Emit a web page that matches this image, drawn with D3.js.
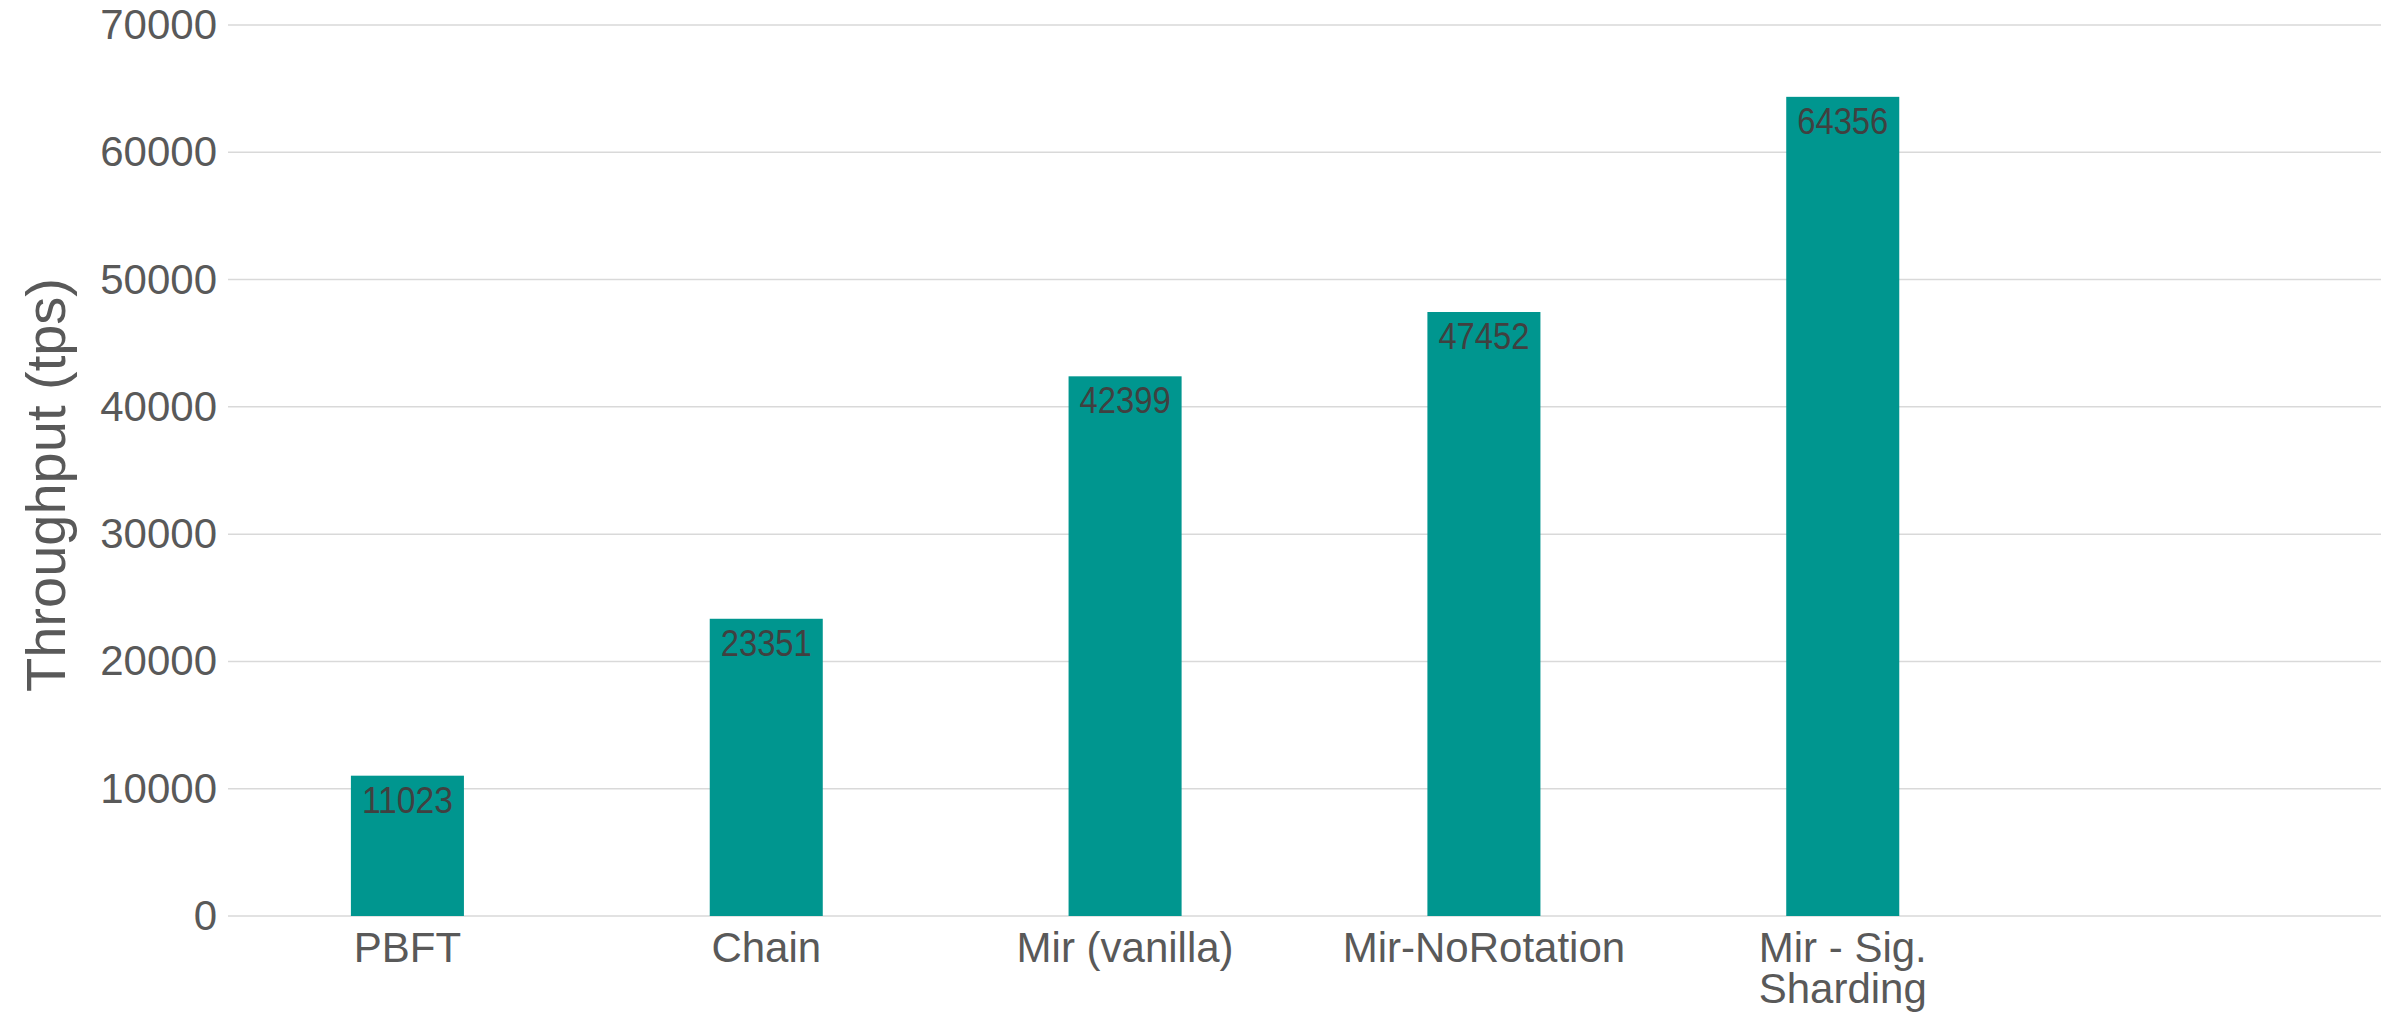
<!DOCTYPE html>
<html>
<head>
<meta charset="utf-8">
<script src="https://cdn.jsdelivr.net/npm/d3@7"></script>
<style>
  html, body { margin: 0; padding: 0; background: #fff; }
  svg { display: block; font-family: "Liberation Sans", Arial, sans-serif; }
</style>
</head>
<body>
<script>
'use strict';

// data
var categories = ["PBFT", "Chain", "Mir (vanilla)", "Mir-NoRotation", "Mir - Sig. Sharding"];
var throughput = [11023, 23351, 42399, 47452, 64356];
var yTicks     = [0, 10000, 20000, 30000, 40000, 50000, 60000, 70000];
var yTitle     = "Throughput (tps)";

var width  = 2391,
    height = 1015,
    margin = {top: 25, right: 10, bottom: 99, left: 228};

var svg = d3.select("body").append("svg")
    .attr("width", width)
    .attr("height", height);

// one empty slot on the right, as in the original plot area
var x = d3.scaleBand()
    .domain(categories.concat([" "]))
    .range([margin.left, width - margin.right])
    .paddingInner(0.685)
    .paddingOuter(0.3425);

var y = d3.scaleLinear()
    .domain([0, 70000])
    .range([height - margin.bottom, margin.top]);

// gridlines
svg.append("g")
    .selectAll("line")
    .data(yTicks)
    .enter().append("line")
        .attr("x1", margin.left)
        .attr("x2", width - margin.right)
        .attr("y1", function(d){ return y(d); })
        .attr("y2", function(d){ return y(d); })
        .attr("stroke", "#d9d9d9")
        .attr("stroke-width", 1.5);

// y axis labels
var yAxis = svg.append("g")
    .attr("transform", "translate(" + (margin.left - 11) + ",0)")
    .call(d3.axisLeft(y).tickValues(yTicks).tickSize(0).tickPadding(0).tickFormat(d3.format("d")));
yAxis.select(".domain").remove();
yAxis.selectAll("text")
    .attr("fill", "#595959")
    .style("font-size", "42px")
    .style("font-family", "Liberation Sans, Arial, sans-serif");

// y title
svg.append("text")
    .attr("transform", "translate(45,485) rotate(-90)")
    .attr("text-anchor", "middle")
    .attr("dy", "0.36em")
    .attr("fill", "#595959")
    .style("font-size", "56px")
    .text(yTitle);

// bars
var data = categories.map(function(c, i){ return {name: c, value: throughput[i]}; });

svg.append("g")
    .selectAll("rect")
    .data(data)
    .enter().append("rect")
        .attr("x", function(d){ return x(d.name); })
        .attr("width", x.bandwidth())
        .attr("y", function(d){ return y(d.value); })
        .attr("height", function(d){ return y(0) - y(d.value); })
        .attr("fill", "#00968f");

// value labels inside the bar top (narrow, like the original)
svg.append("g")
    .selectAll("text")
    .data(data)
    .enter().append("text")
        .attr("x", function(d){ return x(d.name) + x.bandwidth() / 2; })
        .attr("y", function(d){ return y(d.value) + 37; })
        .attr("text-anchor", "middle")
        .attr("fill", "#404040")
        .attr("textLength", 91)
        .attr("lengthAdjust", "spacingAndGlyphs")
        .style("font-size", "37px")
        .text(function(d){ return d.value; });

// x axis category labels, wrapped like the original
var xAxis = svg.append("g")
    .attr("transform", "translate(0," + y(0) + ")")
    .call(d3.axisBottom(x).tickValues(categories).tickSize(0).tickPadding(0));
xAxis.select(".domain").remove();
xAxis.selectAll("text")
    .attr("fill", "#595959")
    .attr("dy", null)
    .attr("y", 46)
    .style("font-size", "42px")
    .style("font-family", "Liberation Sans, Arial, sans-serif")
    .each(function(d){
        var t = d3.select(this);
        if (d === "Mir - Sig. Sharding") {
            t.text(null);
            t.append("tspan").attr("x", 0).text("Mir - Sig.");
            t.append("tspan").attr("x", 0).attr("dy", 41).text("Sharding");
        }
    });
</script>
</body>
</html>
